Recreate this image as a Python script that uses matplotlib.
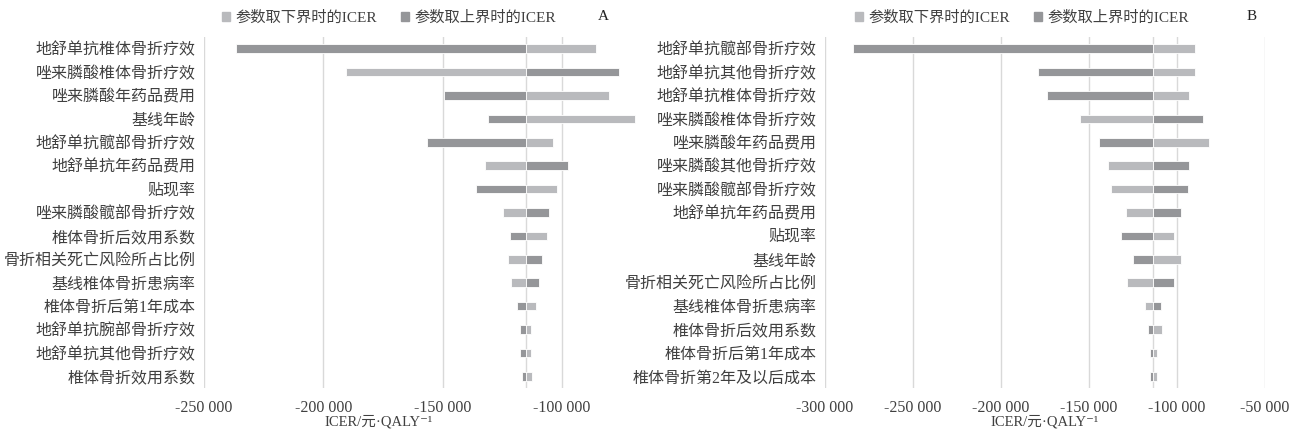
import matplotlib.pyplot as plt
from matplotlib.patches import Patch

plt.rcParams['font.family'] = ['Liberation Serif', 'Noto Sans CJK SC', 'DejaVu Sans']

# --- dados: painel A ---
cats_a = ["地舒单抗椎体骨折疗效", "唑来膦酸椎体骨折疗效", "唑来膦酸年药品费用", "基线年龄",
          "地舒单抗髋部骨折疗效", "地舒单抗年药品费用", "贴现率", "唑来膦酸髋部骨折疗效",
          "椎体骨折后效用系数", "骨折相关死亡风险所占比例", "基线椎体骨折患病率",
          "椎体骨折后第1年成本", "地舒单抗腕部骨折疗效", "地舒单抗其他骨折疗效", "椎体骨折效用系数"]
low_a = [-85600, -190500, -80300, -69200, -103700, -132300, -102000, -124800,
         -106100, -122600, -121400, -111000, -112800, -113000, -112500]
high_a = [-236600, -76100, -149600, -131100, -156600, -97500, -135800, -105400,
          -121700, -108200, -109600, -118800, -117700, -117500, -116600]
base_a = -114900

# --- dados: painel B ---
cats_b = ["地舒单抗髋部骨折疗效", "地舒单抗其他骨折疗效", "地舒单抗椎体骨折疗效", "唑来膦酸椎体骨折疗效",
          "唑来膦酸年药品费用", "唑来膦酸其他骨折疗效", "唑来膦酸髋部骨折疗效", "地舒单抗年药品费用",
          "贴现率", "基线年龄", "骨折相关死亡风险所占比例", "基线椎体骨折患病率",
          "椎体骨折后效用系数", "椎体骨折后第1年成本", "椎体骨折第2年及以后成本"]
low_b = [-89800, -89400, -93000, -154900, -81700, -139200, -137300, -128600,
         -101700, -97400, -128100, -118200, -108200, -111000, -111200]
high_b = [-284100, -178800, -173500, -85100, -144300, -93000, -93400, -97600,
          -131700, -125000, -101500, -108800, -116300, -115200, -115000]
base_b = -113300

ticks_a = [-250000, -200000, -150000, -100000]
ticks_b = [-300000, -250000, -200000, -150000, -100000, -50000]

c_low = '#b9babd'
c_high = '#959699'
c_grid = '#d9d9d9'
c_txt = '#404040'

W, H = 1298, 433
fig = plt.figure(figsize=(W / 100, H / 100), dpi=100)


def fmt(v):
    return '{:,}'.format(v).replace(',', ' ')


def painel(rect, cats, low, high, base, ticks, xlim, letra, letra_x, leg_x, title_x):
    ax = fig.add_axes(rect)
    y = list(range(len(cats)))
    ax.barh(y, [v - base for v in low], left=base, height=0.37, color=c_low,
            edgecolor='white', linewidth=0.6, zorder=3)
    ax.barh(y, [v - base for v in high], left=base, height=0.37, color=c_high,
            edgecolor='white', linewidth=0.6, zorder=3)
    ax.axvline(base, color=c_grid, lw=1, zorder=2)
    ax.set_xlim(*xlim)
    ax.set_ylim(len(cats) - 0.5, -0.5)
    ax.set_xticks(ticks)
    ax.set_xticklabels([fmt(t) for t in ticks], fontsize=11.5, color=c_txt)
    ax.set_yticks(y)
    ax.set_yticklabels(cats, fontsize=11.5, color=c_txt)
    ax.tick_params(axis='both', length=0)
    ax.tick_params(axis='x', pad=9)
    ax.tick_params(axis='y', pad=6)
    ax.grid(axis='x', color=c_grid, lw=1, zorder=0)
    for s in ['top', 'right', 'bottom', 'left']:
        ax.spines[s].set_visible(False)
    fig.text(title_x / W, 1 - 422 / H, 'ICER/元·QALY⁻¹', ha='center', va='center',
             fontsize=10.5, color=c_txt)
    fig.text(letra_x / W, 1 - 17 / H, letra, ha='center', va='center', fontsize=11, color='#222222')
    handles = [Patch(color=c_low, label='参数取下界时的ICER'),
               Patch(color=c_high, label='参数取上界时的ICER')]
    fig.legend(handles=handles, loc='center left', bbox_to_anchor=(leg_x / W, 1 - 18 / H),
               ncol=2, frameon=False, fontsize=11, handlelength=0.55, handleheight=0.55,
               handletextpad=0.3, columnspacing=1.6, borderaxespad=0, borderpad=0,
               labelcolor=c_txt)
    return ax


top = 37
bot = 388
painel([204 / W, 1 - bot / H, (640 - 204) / W, (bot - top) / H], cats_a, low_a, high_a, base_a,
       ticks_a, (-250000, -250000 + (640 - 204) / 119.3 * 50000), 'A', 603, 222, 379)
painel([824.7 / W, 1 - bot / H, 440 / W, (bot - top) / H], cats_b, low_b, high_b, base_b,
       ticks_b, (-300000, -50000), 'B', 1252, 855, 1045)

fig.savefig('out.png', dpi=100)
